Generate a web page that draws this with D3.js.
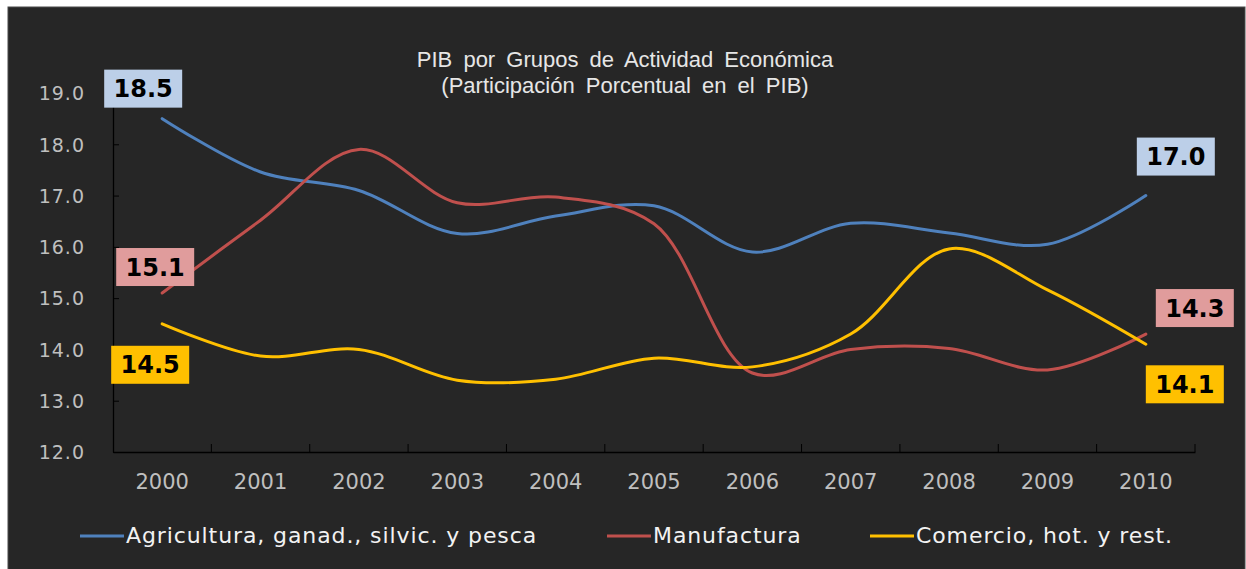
<!DOCTYPE html>
<html>
<head>
<meta charset="utf-8">
<script src="https://cdn.jsdelivr.net/npm/d3@7"></script>
<style>
  body { margin: 0; background: #fff; }
  svg { display: block; }
</style>
</head>
<body>
<script>
"use strict";

// data
var years = ["2000","2001","2002","2003","2004","2005","2006","2007","2008","2009","2010"];
var agricultura = [18.5, 17.46, 17.1, 16.26, 16.6, 16.8, 15.9, 16.46, 16.27, 16.05, 17.0];
var manufactura = [15.1, 16.52, 17.9, 16.86, 16.97, 16.45, 13.54, 14.0, 14.02, 13.6, 14.3];
var comercio    = [14.5, 13.87, 14.0, 13.4, 13.42, 13.83, 13.66, 14.3, 15.96, 15.16, 14.1];
var seriesNames = ["Agricultura, ganad., silvic. y pesca", "Manufactura", "Comercio, hot. y rest."];
var yTicks = [12, 13, 14, 15, 16, 17, 18, 19];
var titleLines = ["PIB por Grupos de Actividad Económica", "(Participación Porcentual en el PIB)"];

var colors = ["#4f81bd", "#c0504d", "#ffc000"];
var labelFill = ["#bccfe8", "#e09c9c", "#ffc000"];

var series = [agricultura, manufactura, comercio].map(function(vals, i){
  return { name: seriesNames[i], color: colors[i], fill: labelFill[i],
           values: vals.map(function(v, j){ return { year: years[j], value: v }; }) };
});

// offsets of the first / last value boxes from their points
var boxOffsets = [
  { first: [-19, -30], last: [30, -39] },
  { first: [-7, -26],  last: [49, -26] },
  { first: [-12, 41],  last: [39, 40] }
];

var W = 1246, H = 569;
var plot = { left: 113, right: 1195, top: 93, bottom: 452 };

var svg = d3.select("body").append("svg")
    .attr("width", W)
    .attr("height", H);

// dark panel
svg.append("rect")
    .attr("x", 8).attr("y", 7)
    .attr("width", 1237).attr("height", 570)
    .attr("fill", "#262626")
    .attr("stroke", "#4a4a4a");

var xScale = d3.scaleBand()
    .domain(years)
    .range([plot.left, plot.right])
    .padding(0);

var yScale = d3.scaleLinear()
    .domain([12, 19])
    .range([plot.bottom, plot.top]);

var xc = function(d){ return xScale(d.year) + xScale.bandwidth() / 2; };

// title
svg.append("text")
    .attr("x", 625)
    .attr("y", 67)
    .attr("text-anchor", "middle")
    .attr("fill", "#e6e6e6")
    .style("font-family", "'Liberation Sans', Arial, sans-serif")
    .style("font-size", "22px")
    .style("word-spacing", "5px")
  .selectAll("tspan")
  .data(titleLines)
  .enter().append("tspan")
    .attr("x", 625)
    .attr("dy", function(d, i){ return i ? 26 : 0; })
    .text(function(d){ return d; });

// y axis
var yAxis = d3.axisLeft(yScale)
    .tickValues(yTicks)
    .tickSizeInner(-6)
    .tickSizeOuter(0)
    .tickPadding(28)
    .tickFormat(d3.format(".1f"));

var gY = svg.append("g")
    .attr("transform", "translate(" + plot.left + ",0)")
    .call(yAxis);

// x axis, ticks between categories
var xAxis = d3.axisBottom(xScale)
    .tickSize(0)
    .tickPadding(0);

var gX = svg.append("g")
    .attr("transform", "translate(0," + plot.bottom + ")")
    .call(xAxis);

gX.selectAll(".boundary")
    .data(years)
    .enter().append("line")
    .attr("class", "boundary")
    .attr("x1", function(d){ return xScale(d) + xScale.bandwidth(); })
    .attr("x2", function(d){ return xScale(d) + xScale.bandwidth(); })
    .attr("y1", 0).attr("y2", -8)
    .attr("stroke", "#000");

[gX, gY].forEach(function(g){
  g.select(".domain").attr("stroke", "#000").attr("stroke-width", 1.3);
  g.selectAll(".tick line").attr("stroke", "#000");
  g.selectAll(".tick text")
      .attr("fill", "#bfbfbf")
      .style("font-family", "'DejaVu Sans', Verdana, sans-serif");
});
gY.selectAll(".tick text")
    .attr("dy", "0.36em")
    .style("font-size", "19px")
    .style("letter-spacing", "1px");
gX.selectAll(".tick text")
    .attr("y", 37)
    .attr("dy", 0)
    .style("font-size", "21px");

// lines
var line = d3.line()
    .x(xc)
    .y(function(d){ return yScale(d.value); })
    .curve(d3.curveCatmullRom.alpha(0.5));

svg.selectAll(".series")
    .data(series)
    .enter().append("path")
    .attr("class", "series")
    .attr("d", function(d){ return line(d.values); })
    .attr("fill", "none")
    .attr("stroke", function(d){ return d.color; })
    .attr("stroke-width", 3)
    .attr("stroke-linecap", "round");

// value boxes at the ends
var ends = [];
series.forEach(function(s, i){
  var first = s.values[0], last = s.values[s.values.length - 1];
  ends.push({ d: first, fill: s.fill, off: boxOffsets[i].first });
  ends.push({ d: last, fill: s.fill, off: boxOffsets[i].last });
});

var boxes = svg.selectAll(".vbox")
    .data(ends)
    .enter().append("g")
    .attr("class", "vbox")
    .attr("transform", function(e){
      return "translate(" + (xc(e.d) + e.off[0]) + "," + (yScale(e.d.value) + e.off[1]) + ")";
    });

boxes.append("rect")
    .attr("x", -39).attr("y", -19)
    .attr("width", 78).attr("height", 38)
    .attr("fill", function(e){ return e.fill; });

boxes.append("text")
    .attr("text-anchor", "middle")
    .attr("dy", "0.36em")
    .attr("fill", "#000")
    .style("font-family", "'DejaVu Sans', Verdana, sans-serif")
    .style("font-weight", "bold")
    .style("font-size", "24px")
    .text(function(e){ return d3.format(".1f")(e.d.value); });

// legend
var legendX = [80, 607, 870];
var legend = svg.selectAll(".legend")
    .data(series)
    .enter().append("g")
    .attr("class", "legend")
    .attr("transform", function(d, i){ return "translate(" + legendX[i] + ",536)"; });

legend.append("line")
    .attr("x1", 0).attr("x2", 44)
    .attr("stroke", function(d){ return d.color; })
    .attr("stroke-width", 3);

legend.append("text")
    .attr("x", 46)
    .attr("y", 7)
    .attr("fill", "#f2f2f2")
    .style("font-family", "'DejaVu Sans', Verdana, sans-serif")
    .style("font-size", "22px")
    .style("letter-spacing", "0.9px")
    .text(function(d){ return d.name; });
</script>
</body>
</html>
